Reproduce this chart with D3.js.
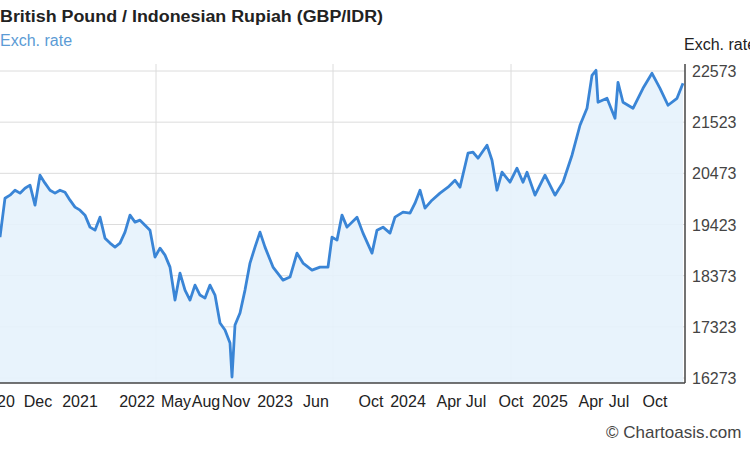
<!DOCTYPE html>
<html><head><meta charset="utf-8">
<script src="https://cdn.jsdelivr.net/npm/d3@7"></script>
<style>body{margin:0;background:#fff}svg{font-family:"Liberation Sans",Arial,sans-serif}</style>
</head><body><svg id="c" width="750" height="450"></svg>
<script>
// position along time axis (chart units) and exchange rate values
const positions = [0,5,10,15,20,25,30,35,40,45,50,55,60,65,70,75,80,85,90,95,100,105,110,115,120,125,130,135,140,145,150,155,160,165,170,175,180,185,190,195,200,205,210,215,220,225,230,232,235,240,245,250,255,260,265,273,283,290,297,303,312,320,328,332,337,342,347,357,363,372,377,383,390,395,403,410,415,420,425,432,440,448,455,460,468,473,478,487,492,497,502,510,517,523,527,535,545,555,563,572,580,587,592,596,598,607,615,618,623,633,643,652,660,668,677,683];
const rates = [19163,19963,20025,20127,20066,20168,20230,19820,20435,20271,20127,20066,20127,20086,19922,19779,19717,19615,19369,19307,19574,19143,19041,18959,19041,19266,19615,19471,19512,19410,19307,18754,18938,18795,18549,17872,18426,18077,17872,18180,17975,17913,18180,17975,17401,17257,16991,16293,17360,17606,18077,18631,18959,19266,18959,18549,18282,18344,18836,18631,18487,18549,18549,19163,19102,19615,19369,19574,19246,18836,19307,19369,19246,19574,19676,19656,19861,20127,19758,19922,20066,20189,20332,20189,20886,20906,20783,21050,20742,20127,20496,20291,20578,20291,20496,20025,20435,20025,20291,20845,21460,21808,22485,22587,21931,22013,21603,22341,21931,21808,22218,22526,22218,21870,22013,22321];
const yTicks = [16273,17323,18373,19423,20473,21523,22573];
const xTickLabels = ["20","Dec","2021","2022","May","Aug","Nov","2023","Jun","Oct","2024","Apr","Jul","Oct","2025","Apr","Jul","Oct"];
const xTickPos = [6,38,80,137,176,206,236,275,316,371,408,449,476,511,550,591,619,655];
const vGrid = [156,333,511];

const svg = d3.select("#c");
const x = d3.scaleLinear().domain([0,685]).range([0,685]);
const y = d3.scaleLinear().domain([16273,22573]).range([378,71]);
const plotTop=64, plotBottom=383, plotRight=685;

svg.append("g").selectAll("line").data(yTicks).join("line")
  .attr("x1",0).attr("x2",plotRight).attr("y1",d=>y(d)).attr("y2",d=>y(d))
  .attr("stroke","#dcdcdc").attr("stroke-width",1);
svg.append("g").selectAll("line").data(vGrid).join("line")
  .attr("x1",d=>x(d)).attr("x2",d=>x(d)).attr("y1",plotTop).attr("y2",plotBottom)
  .attr("stroke","#dcdcdc").attr("stroke-width",1);

const data = positions.map((p,i)=>({p,v:rates[i]}));
svg.append("path").datum(data)
  .attr("d",d3.area().x(d=>x(d.p)).y0(plotBottom).y1(d=>y(d.v)))
  .attr("fill","#e6f2fc").attr("opacity",0.9);
svg.append("path").datum(data)
  .attr("d",d3.line().x(d=>x(d.p)).y(d=>y(d.v)))
  .attr("fill","none").attr("stroke","#3a85d6").attr("stroke-width",2.8).attr("stroke-linejoin","round");

svg.append("line").attr("x1",0).attr("x2",plotRight).attr("y1",plotBottom).attr("y2",plotBottom).attr("stroke","#444").attr("stroke-width",1.5);
svg.append("line").attr("x1",plotRight).attr("x2",plotRight).attr("y1",plotTop).attr("y2",plotBottom).attr("stroke","#444").attr("stroke-width",1.5);

svg.append("g").selectAll("text").data(yTicks).join("text")
  .attr("x",692).attr("y",d=>y(d)+6).text(d=>d)
  .attr("font-size",16).attr("fill","#444");
svg.append("g").selectAll("text").data(xTickLabels).join("text")
  .attr("x",(d,i)=>x(xTickPos[i])).attr("y",407).attr("text-anchor","middle").text(d=>d)
  .attr("font-size",16).attr("fill","#222");

svg.append("text").attr("x",0).attr("y",22).text("British Pound / Indonesian Rupiah (GBP/IDR)")
  .attr("font-size",16).attr("font-weight","bold").attr("fill","#222").attr("textLength",383).attr("lengthAdjust","spacingAndGlyphs");
svg.append("text").attr("x",0).attr("y",46).text("Exch. rate").attr("font-size",16).attr("fill","#5b9bd5");
svg.append("text").attr("x",684).attr("y",50).text("Exch. rate").attr("font-size",16).attr("fill","#222");
svg.append("text").attr("x",606).attr("y",438).text("© Chartoasis.com").attr("font-size",17).attr("fill","#444");
</script></body></html>
